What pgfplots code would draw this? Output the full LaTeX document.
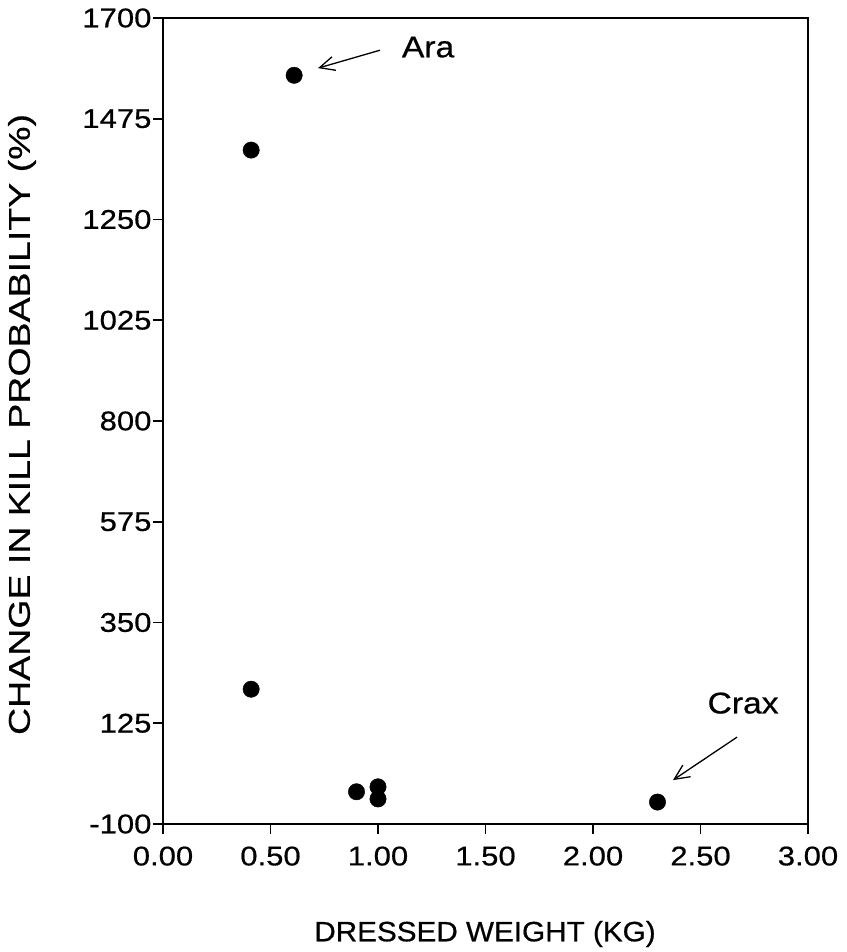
\documentclass[border=0pt]{standalone}
\usepackage{fontspec}
\setmainfont{Liberation Sans}
\newfontfamily\tickfont[FakeStretch=1.15,FakeBold=0.6]{Liberation Sans}
\newfontfamily\xlabfont[FakeStretch=1.06,FakeBold=0.6]{Liberation Sans}
\newfontfamily\ylabfont[FakeStretch=1.25,FakeBold=0.5]{Liberation Sans}
\newfontfamily\annfont[FakeStretch=1.12,FakeBold=0.6]{Liberation Sans}
\usepackage{pgfplots}
\pgfplotsset{compat=1.18}
\usetikzlibrary{arrows.meta}
\begin{document}
\begin{tikzpicture}
\path (-163pt,-128pt) rectangle (683pt,824pt);
\begin{axis}[
  at={(0pt,0pt)}, anchor=south west,
  scale only axis, width=645pt, height=806pt,
  xmin=0, xmax=3, ymin=-100, ymax=1700,
  xtick={0,0.5,1,1.5,2,2.5,3},
  ytick={-100,125,350,575,800,1025,1250,1475,1700},
  xtick pos=lower, ytick pos=lower,
  tick align=outside,
  tickwidth=10pt,
  xtick style={black, line width=1.8pt},
  ytick style={black, line width=1.8pt},
  axis line style={line width=1.8pt},
  /pgf/number format/assume math mode=true,
  xticklabel style={font=\tickfont\fontsize{27}{29}\selectfont, anchor=north, yshift=-9pt, /pgf/number format/.cd, fixed, fixed zerofill, precision=2},
  yticklabel style={font=\tickfont\fontsize{27}{29}\selectfont, anchor=east, xshift=2pt, /pgf/number format/.cd, 1000 sep={}},
  xlabel={DRESSED WEIGHT (KG)},
  ylabel={CHANGE IN KILL PROBABILITY (\%)},
  xlabel style={font=\xlabfont\fontsize{28}{30}\selectfont, at={(axis description cs:0.4992,-0.1365)}, anchor=center},
  ylabel style={font=\ylabfont\fontsize{30}{32}\selectfont, at={(axis description cs:-0.2186,0.4957)}, anchor=center},
]
\addplot[only marks, mark=*, mark size=8.2pt, black] coordinates {
  (0.61,1572) (0.41,1405) (0.41,201) (0.9,-28) (1.0,-17) (1.0,-44) (2.3,-51)
};
\draw[line width=1.3pt, -{Straight Barb[length=15pt,width=14pt,line width=1.3pt]}] (axis cs:1.009,1628) -- (axis cs:0.721,1588);
\draw[line width=1.3pt, -{Straight Barb[length=15pt,width=14pt,line width=1.3pt]}] (axis cs:2.670,94) -- (axis cs:2.372,-2);
\node[font=\annfont\fontsize{30}{32}\selectfont] at (axis cs:1.233,1635) {Ara};
\node[font=\annfont\fontsize{30}{32}\selectfont] at (axis cs:2.698,170) {Crax};
\end{axis}
\end{tikzpicture}
\end{document}
